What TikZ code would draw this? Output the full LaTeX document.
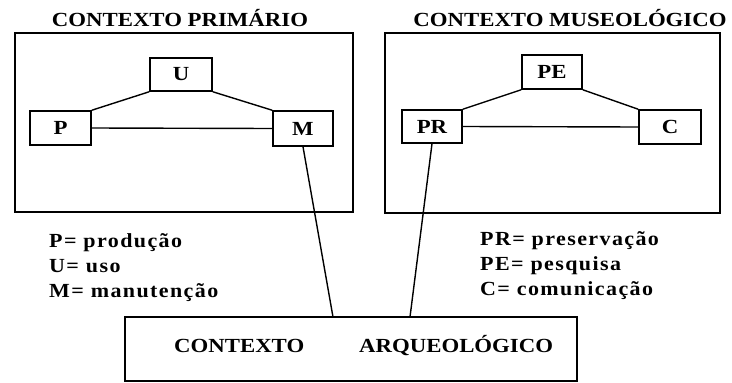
\documentclass[tikz,border=0pt]{standalone}
\usepackage{fontspec}
\setmainfont{Liberation Serif}[FakeStretch=1.14]
\newfontfamily\legfont{Liberation Serif}[FakeStretch=1.1,LetterSpace=7]
\begin{document}
\begin{tikzpicture}[x=1pt,y=-1pt,
  every node/.style={font=\fontsize{20}{23}\selectfont\bfseries},
  frame/.style={draw,line width=1.4pt,inner sep=0pt},
  boxn/.style={draw,line width=1.5pt,inner sep=0pt},
  link/.style={line width=1.4pt},
  ttl/.style={anchor=base,inner sep=0pt},
  leg/.style={anchor=base west,inner sep=0pt,align=left,font=\legfont\fontsize{20}{23}\selectfont\bfseries}]
\useasboundingbox (0,0) rectangle (732,383);
% outer frames
\node[frame,minimum width=338pt,minimum height=179pt] (ctxP) at (184,122.5) {};
\node[frame,minimum width=335pt,minimum height=180pt] (ctxM) at (552.5,123) {};
% titles
\node[ttl] (tP) at (180,26) {CONTEXTO PRIMÁRIO};
\node[ttl] (tM) at (570,26) {CONTEXTO MUSEOLÓGICO};
% primary context boxes
\node[boxn,minimum width=62pt,minimum height=33pt] (U) at (181,74.5) {U};
\node[boxn,minimum width=61pt,minimum height=34pt] (P) at (60.5,128) {P};
\node[boxn,minimum width=60pt,minimum height=35pt] (M) at (303,128.5) {M};
% museological boxes
\node[boxn,minimum width=60pt,minimum height=34pt] (PE) at (552,72) {PE};
\node[boxn,minimum width=60pt,minimum height=33pt] (PR) at (432,126.5) {PR};
\node[boxn,minimum width=62pt,minimum height=34pt] (C) at (670,127) {C};
% archaeological box
\node[frame,minimum width=452pt,minimum height=64pt] (arq) at (351,349) {};
\node[anchor=base west,inner sep=0pt] (arqA) at (174,352) {CONTEXTO};
\node[anchor=base west,inner sep=0pt] (arqB) at (359,352) {ARQUEOLÓGICO};
% connectors
\draw[link] (U.south west) -- (P.north east);
\draw[link] (U.south east) -- (M.north west);
\draw[link] (P.east) -- (M.west);
\draw[link] (PE.south west) -- (PR.north east);
\draw[link] (PE.south east) -- (C.north west);
\draw[link] (PR.east) -- (C.west);
\coordinate (jM) at (333,317);
\coordinate (jPR) at (410,317);
\draw[link] (M.south) -- (jM);
\draw[link] (PR.south) -- (jPR);
% legends
\node[leg] (legP1) at (49,247) {P= produção};
\node[leg] (legP2) at (49,272) {U= uso};
\node[leg] (legP3) at (49,297) {M= manutenção};
\node[leg] (legM1) at (480,245) {PR= preservação};
\node[leg] (legM2) at (480,270) {PE= pesquisa};
\node[leg] (legM3) at (480,295) {C= comunicação};
\end{tikzpicture}
\end{document}
